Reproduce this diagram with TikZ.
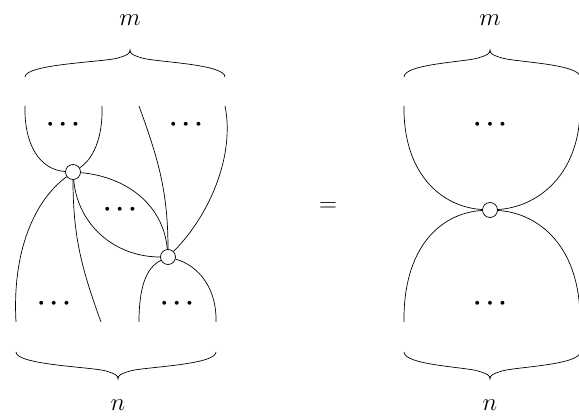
\documentclass[tikz,border=0pt]{standalone}
\newcommand{\Brc}[5]{%
  \draw (#1,#4) .. controls (#1,#4+#5*13) and (#2-25,#4+#5*15) .. (#2-12,#4+#5*19)
    .. controls (#2-3,#4+#5*21.8) and (#2,#4+#5*23) .. (#2,#4+#5*27)
    .. controls (#2,#4+#5*23) and (#2+3,#4+#5*21.8) .. (#2+12,#4+#5*19)
    .. controls (#2+25,#4+#5*15) and (#3,#4+#5*13) .. (#3,#4);}
\begin{document}
\begin{tikzpicture}[x=1pt,y=-1pt,line width=0.7pt,
  vtx/.style={circle,draw,fill=white,minimum size=15pt,inner sep=0pt},
  lbl/.style={font=\fontsize{26}{30}\selectfont,inner sep=0pt},
  dts/.style={font=\fontsize{30}{36}\selectfont\boldmath,inner sep=0pt}]
\useasboundingbox (0,0) rectangle (579,419);
% vertices
\node[vtx] (v1) at (73,172) {};
\node[vtx] (v2) at (168,257) {};
\node[vtx] (v3) at (490,210) {};
% strand ends
\coordinate (a1) at (25,106);
\coordinate (a2) at (102,106);
\coordinate (a3) at (139,106);
\coordinate (a4) at (225,106);
\coordinate (b1) at (16,322);
\coordinate (b2) at (101,322);
\coordinate (b3) at (139,322);
\coordinate (b4) at (216,322);
\coordinate (c1) at (404,106);
\coordinate (c2) at (580,106);
\coordinate (d1) at (404,322);
\coordinate (d2) at (580,322);
% left diagram strands
\draw (a1) .. controls (24,145) and (40,170) .. (v1);
\draw (a2) .. controls (103,140) and (92,160) .. (v1);
\draw (a3) to[out=-70,in=90] (v2);
\draw (a4) .. controls (235,155) and (210,215) .. (v2);
\draw (v1) to[out=-5,in=95] (v2);
\draw (v1) to[out=-85,in=180] (v2);
\draw (v1) .. controls (35,200) and (12,250) .. (b1);
\draw (v1) to[out=-90,in=110] (b2);
\draw (v2) .. controls (145,268) and (139,290) .. (b3);
\draw (v2) .. controls (200,266) and (217,290) .. (b4);
% right diagram strands
\draw (c1) .. controls (403,172) and (440,207) .. (v3);
\draw (c2) .. controls (581,172) and (540,207) .. (v3);
\draw (v3) .. controls (440,213) and (403,248) .. (d1);
\draw (v3) .. controls (540,213) and (581,248) .. (d2);
% dots
\node[dts] (t1) at (63,125) {$\cdots$};
\node[dts] (t2) at (186,125) {$\cdots$};
\node[dts] (t3) at (120,210) {$\cdots$};
\node[dts] (t4) at (54,304) {$\cdots$};
\node[dts] (t5) at (177,304) {$\cdots$};
\node[dts] (t6) at (490,125) {$\cdots$};
\node[dts] (t7) at (490,304) {$\cdots$};
% braces
\Brc{25}{130}{225}{77}{-1}
\Brc{16}{118}{216}{352}{1}
\Brc{404}{490}{580}{77}{-1}
\Brc{404}{490}{580}{352}{1}
% labels
\node[lbl] (m1) at (130,20) {$m$};
\node[lbl] (m2) at (490,20) {$m$};
\node[lbl] (n1) at (118,405) {$n$};
\node[lbl] (n2) at (490,405) {$n$};
\node[lbl] (eq) at (328,207) {$=$};
\end{tikzpicture}
\end{document}
